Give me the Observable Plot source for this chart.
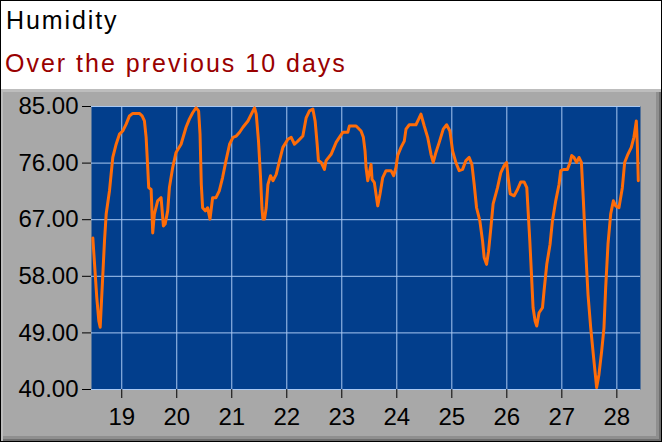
<!DOCTYPE html>
<html>
<head>
<meta charset="utf-8">
<script src="https://cdn.jsdelivr.net/npm/d3@7"></script>
<script src="https://cdn.jsdelivr.net/npm/@observablehq/plot@0.6"></script>
<style>
  html, body { margin: 0; padding: 0; background: #fff; }
  #frame { position: relative; width: 662px; height: 442px; box-sizing: border-box; border: 1px solid #000; overflow: hidden; font-family: "Liberation Sans", Arial, sans-serif; }
  #title { position: absolute; left: 5px; top: 5px; font-size: 25px; letter-spacing: 1.9px; color: #000; }
  #subtitle { position: absolute; left: 4px; top: 48px; font-size: 25px; letter-spacing: 2px; color: #990000; }
  #panel { position: absolute; left: -1px; top: 88px; width: 662px; height: 353px; background: #a8a8a8;
    box-shadow: inset 3px 3px 0 #bdbdbd, inset -3px -3px 0 #6e6e6e, inset -6px -6px 0 #8f8f8f; }
  #panel svg { position: absolute; left: 0; top: 0; }
</style>
</head>
<body>
<div id="frame">
  <div id="title">Humidity</div>
  <div id="subtitle">Over the previous 10 days</div>
  <div id="panel"></div>
</div>
<script>
// Day of month (fractional) and relative humidity (%)
const days = [
  18.474, 18.505, 18.546, 18.583, 18.608, 18.644, 18.686, 18.717, 18.777, 18.837,
  18.898, 18.958, 19.018, 19.080, 19.140, 19.200, 19.321, 19.370, 19.412, 19.443,
  19.472, 19.490, 19.534, 19.563, 19.593, 19.653, 19.715, 19.757, 19.788, 19.835,
  19.866, 19.926, 19.987, 20.078, 20.169, 20.229, 20.289, 20.350, 20.397, 20.423,
  20.446, 20.470, 20.519, 20.561, 20.604, 20.652, 20.713, 20.773, 20.833, 20.895,
  20.960, 21.022, 21.082, 21.142, 21.203, 21.294, 21.385, 21.414, 21.445, 21.486,
  21.523, 21.548, 21.566, 21.595, 21.626, 21.657, 21.704, 21.748, 21.808, 21.868,
  21.929, 22.020, 22.080, 22.140, 22.201, 22.292, 22.352, 22.412, 22.474, 22.515,
  22.552, 22.575, 22.624, 22.684, 22.715, 22.806, 22.897, 22.956, 23.018, 23.109,
  23.138, 23.229, 23.260, 23.350, 23.392, 23.423, 23.441, 23.472, 23.501, 23.532,
  23.550, 23.592, 23.653, 23.695, 23.744, 23.804, 23.895, 23.944, 23.985, 24.016,
  24.076, 24.136, 24.167, 24.227, 24.348, 24.397, 24.439, 24.499, 24.561, 24.621,
  24.662, 24.711, 24.771, 24.844, 24.906, 24.965, 25.015, 25.074, 25.134, 25.196,
  25.256, 25.316, 25.365, 25.407, 25.450, 25.510, 25.559, 25.588, 25.632, 25.668,
  25.710, 25.751, 25.831, 25.891, 25.951, 25.995, 26.024, 26.061, 26.133, 26.194,
  26.254, 26.314, 26.363, 26.387, 26.418, 26.448, 26.477, 26.514, 26.544, 26.586,
  26.648, 26.677, 26.726, 26.786, 26.829, 26.889, 26.949, 26.980, 27.040, 27.102,
  27.149, 27.180, 27.221, 27.270, 27.312, 27.356, 27.392, 27.434, 27.476, 27.525,
  27.584, 27.633, 27.675, 27.724, 27.766, 27.797, 27.839, 27.888, 27.937, 27.979,
  28.038, 28.100, 28.142, 28.201, 28.263, 28.310, 28.354, 28.372, 28.390
];
const humidity = [
  64.1, 60.0, 54.6, 50.9, 49.9, 56.2, 63.6, 67.9, 71.6, 76.9,
  79.0, 80.6, 81.1, 82.2, 83.5, 83.9, 83.9, 83.5, 82.7, 80.1,
  75.3, 72.1, 71.8, 64.9, 67.9, 70.0, 70.5, 66.0, 66.3, 68.4,
  72.1, 75.3, 77.7, 79.0, 81.7, 83.0, 84.0, 84.8, 84.3, 80.6,
  72.6, 68.9, 68.4, 68.9, 67.1, 70.5, 70.5, 71.6, 73.7, 76.4,
  79.0, 80.1, 80.3, 80.9, 81.7, 82.7, 84.3, 84.8, 83.8, 79.5,
  73.7, 68.9, 67.1, 67.1, 68.9, 72.6, 74.0, 73.2, 74.2, 76.4,
  78.5, 79.8, 80.1, 79.0, 79.5, 80.3, 83.2, 84.3, 84.6, 82.7,
  79.0, 76.4, 76.1, 75.0, 76.4, 77.4, 79.3, 80.1, 80.9, 80.9,
  81.9, 81.9, 81.9, 81.1, 80.1, 77.9, 75.3, 73.2, 74.5, 75.8,
  73.4, 72.9, 69.2, 71.1, 73.7, 74.8, 74.8, 74.0, 75.3, 77.2,
  78.5, 79.5, 81.4, 82.1, 82.1, 83.0, 83.8, 81.9, 80.1, 77.4,
  76.1, 77.7, 79.3, 81.4, 82.1, 81.1, 77.9, 76.1, 74.8, 75.0,
  76.4, 76.9, 75.8, 72.6, 68.9, 66.8, 63.6, 61.0, 59.9, 62.0,
  65.7, 69.5, 72.1, 74.5, 75.6, 76.1, 73.7, 71.1, 70.8, 71.8,
  73.0, 73.0, 72.1, 68.4, 63.6, 58.3, 53.0, 50.9, 50.1, 52.2,
  53.0, 55.7, 59.9, 63.1, 66.8, 70.0, 72.6, 74.8, 75.0, 75.0,
  76.1, 77.2, 76.9, 76.1, 76.9, 76.1, 70.0, 62.0, 55.1, 49.8,
  44.5, 40.3, 42.4, 46.1, 49.8, 56.2, 63.1, 67.9, 70.0, 69.2,
  68.9, 72.1, 76.1, 77.4, 78.5, 80.1, 82.7, 79.0, 73.2
];
const xTicks = [19, 20, 21, 22, 23, 24, 25, 26, 27, 28];
const yTicks = [40, 49, 58, 67, 76, 85];

const data = days.map((d, i) => ({day: d, hum: humidity[i]}));

const chart = Plot.plot({
  width: 662,
  height: 353,
  marginTop: 17,
  marginBottom: 53,
  marginLeft: 91,
  marginRight: 22,
  style: {background: "transparent", fontFamily: "'Liberation Sans', Arial, sans-serif", fontSize: "24px", color: "#000", overflow: "visible"},
  x: {domain: [18.45, 28.43], ticks: xTicks, label: null},
  y: {domain: [40, 85], ticks: yTicks, label: null},
  marks: [
    Plot.frame({fill: "#023e8c", stroke: null}),
    Plot.ruleX(xTicks, {stroke: "#a9c8f2", strokeWidth: 1}),
    Plot.ruleY(yTicks, {stroke: "#a9c8f2", strokeWidth: 1}),
    Plot.line(data, {x: "day", y: "hum", stroke: "#ff6c08", strokeWidth: 3, clip: true}),
    Plot.axisX({ticks: xTicks, tickSize: 9, tickPadding: 9, fontSize: 24, stroke: "#000", color: "#000", label: null}),
    Plot.axisY({ticks: yTicks, tickSize: 9, tickPadding: 4, fontSize: 24, tickFormat: d => d.toFixed(2), stroke: "#000", label: null})
  ]
});
document.getElementById("panel").appendChild(chart);
</script>
</body>
</html>
